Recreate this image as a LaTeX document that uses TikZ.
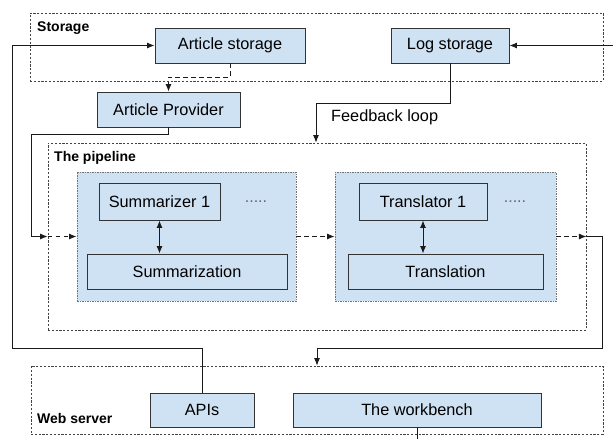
\documentclass[tikz,border=0pt]{standalone}
\usepackage{fontspec}
\setmainfont{Liberation Sans}
\usetikzlibrary{arrows.meta}
\definecolor{boxfill}{HTML}{CFE2F3}
\definecolor{edgec}{HTML}{333333}
\definecolor{contc}{HTML}{444444}
\definecolor{connc}{HTML}{1A1A1A}
\begin{document}
\begin{tikzpicture}[x=1pt,y=-1pt,
  box/.style={draw=edgec,fill=boxfill,line width=0.9pt,inner sep=0pt,font=\fontsize{16.3}{19}\selectfont},
  group/.style={draw=gray!90!black,fill=boxfill,line width=0.9pt,dash pattern=on 1.5pt off 1pt,inner sep=0pt},
  cont/.style={draw=contc,line width=0.8pt,dash pattern=on 2.2pt off 1.6pt,inner sep=0pt},
  lbl/.style={font=\fontsize{14}{16}\bfseries\selectfont,anchor=west,inner sep=0pt},
  conn/.style={draw=connc,line width=0.95pt},
  arr/.style={conn,-{Latex[length=7.5pt,width=6pt]}},
  darr/.style={arr,dash pattern=on 4.5pt off 3.5pt},
  dbl/.style={conn,{Latex[length=7.5pt,width=6pt]}-{Latex[length=7.5pt,width=6pt]}},
  dots/.style={font=\fontsize{16}{19}\selectfont,text=gray!80!black,anchor=base,inner sep=0pt}
]
\useasboundingbox (0,0) rectangle (613,439);
% containers
\node[cont,minimum width=573pt,minimum height=68pt] (stor) at (316.5,47) {};
\node[cont,minimum width=538pt,minimum height=187pt] (pipe) at (317,236.5) {};
\node[cont,minimum width=572pt,minimum height=68pt] (web) at (317,400) {};
\node[lbl] (storl) at (37,28) {Storage};
\node[lbl] (pipel) at (54,158) {The pipeline};
\node[lbl] (webl) at (37,418) {Web server};
% storage boxes
\node[box,minimum width=150pt,minimum height=35pt] (as) at (230,45.5) {Article storage};
\node[box,minimum width=118pt,minimum height=35pt] (ls) at (450,45.5) {Log storage};
\node[box,minimum width=143pt,minimum height=35pt] (ap) at (168.5,109.5) {Article Provider};
% pipeline groups
\node[group,minimum width=219pt,minimum height=129pt] (sg) at (186.5,236.5) {};
\node[group,minimum width=221pt,minimum height=129pt] (tg) at (445.5,236.5) {};
\node[box,minimum width=121pt,minimum height=37pt] (s1) at (159.5,201.5) {Summarizer 1};
\node[box,minimum width=200pt,minimum height=35pt] (su) at (187,271.5) {Summarization};
\node[box,minimum width=128pt,minimum height=37pt] (t1) at (423,201.5) {Translator 1};
\node[box,minimum width=195pt,minimum height=35pt] (tr) at (445.5,271.5) {Translation};
\node[dots] (d1) at (256,202.5) {.....};
\node[dots] (d2) at (515,202.5) {.....};
% web server
\node[box,minimum width=104pt,minimum height=34pt] (api) at (202,410) {APIs};
\node[box,minimum width=248pt,minimum height=34pt] (wb) at (417,410) {The workbench};
% coordinates
\coordinate (c1) at (12,348);
\coordinate (rin) at (613,45.5);
\coordinate (c2) at (0,77);
\coordinate (c3) at (31,134);
\coordinate (c4) at (602,348);
\coordinate (c5) at (316,103);
\coordinate (bot) at (0,439);
% connectors
\draw[arr] (api.north) |- (c1) |- (as.west);
\draw[arr] (rin) -- (ls.east);
\draw[darr] (as.south) -- (as.south |- c2) -| (ap.north);
\draw[arr] (ap.south) |- (c3) |- (pipe.west);
\draw[darr] (pipe.west) -- (sg.west);
\draw[darr] (sg.east) -- (tg.west);
\draw[darr] (tg.east) -- (pipe.east);
\draw[arr] (pipe.east) -| (c4) -| (web.north);
\draw[arr] (ls.south) |- (c5) -- (c5 |- pipe.north);
\node[font=\fontsize{16.3}{19}\selectfont,anchor=west,inner sep=0pt] (fb) at (331,117) {Feedback loop};
\draw[dbl] (s1.south) -- (s1.south |- su.north);
\draw[dbl] (t1.south) -- (t1.south |- tr.north);
\draw[conn] (wb.south) -- (wb.south |- bot);
\end{tikzpicture}
\end{document}
